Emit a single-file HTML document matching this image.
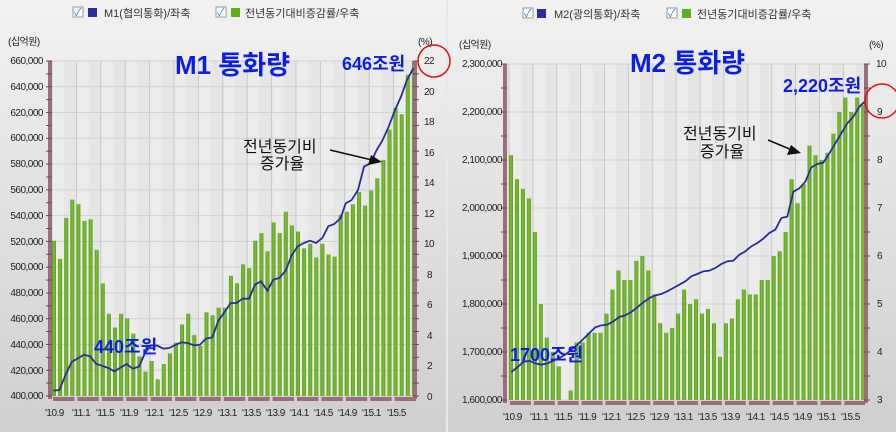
<!DOCTYPE html>
<html><head><meta charset="utf-8"><style>
html,body{margin:0;padding:0;background:#eee;}
body{width:896px;height:436px;overflow:hidden;position:relative;font-family:"Liberation Sans","Noto Sans CJK KR",sans-serif;}
svg{position:absolute;left:0;top:0;}
.t{font-size:10px;fill:#222;letter-spacing:-0.5px}
.lg{font-size:11px;fill:#333}
.ttl{font-size:26px;font-weight:bold;fill:#0a1ee6}
.amt{font-size:18px;font-weight:bold;fill:#0a1ee6}
.ann{font-size:16px;fill:#111}
</style></head><body>
<svg id="s" width="896" height="436" viewBox="0 0 896 436">
<defs>
<linearGradient id="bg" x1="0" y1="0" x2="0" y2="1"><stop offset="0" stop-color="#f2f2f2"/><stop offset="1" stop-color="#cfcfcf"/></linearGradient>
<linearGradient id="bar" x1="0" y1="0" x2="1" y2="0"><stop offset="0" stop-color="#5a9a1e"/><stop offset="0.5" stop-color="#7dc236"/><stop offset="1" stop-color="#5a9a1e"/></linearGradient>
</defs>
<rect x="0" y="0" width="896" height="432" fill="url(#bg)"/>
<rect x="0" y="432" width="896" height="4" fill="#fff"/>
<rect x="446" y="0" width="2" height="432" fill="#e8e8e8"/>
<g id="g"></g>
<rect x="73" y="7" width="10" height="10" fill="#fff" stroke="#999"/><text x="74" y="16" font-size="11" fill="#2a8ad8">✓</text>
<rect x="88" y="8" width="9" height="9" fill="#2b2c9c"/>
<text x="104" y="17" class="lg">M1(협의통화)/좌축</text>
<rect x="216" y="7" width="10" height="10" fill="#fff" stroke="#999"/><text x="217" y="16" font-size="11" fill="#2a8ad8">✓</text>
<rect x="231" y="8" width="9" height="9" fill="#5fae1e"/>
<text x="245" y="17" class="lg">전년동기대비증감률/우축</text>
<rect x="523" y="8" width="10" height="10" fill="#fff" stroke="#999"/><text x="524" y="17" font-size="11" fill="#2a8ad8">✓</text>
<rect x="537" y="9" width="9" height="9" fill="#2b2c9c"/>
<text x="554" y="18" class="lg">M2(광의통화)/좌축</text>
<rect x="667" y="8" width="10" height="10" fill="#fff" stroke="#999"/><text x="668" y="17" font-size="11" fill="#2a8ad8">✓</text>
<rect x="682" y="9" width="9" height="9" fill="#5fae1e"/>
<text x="697" y="18" class="lg">전년동기대비증감률/우축</text>
<text x="8" y="45" class="t" fill="#555">(십억원)</text>
<text x="418" y="45" class="t">(%)</text>
<text x="459" y="48" class="t">(십억원)</text>
<text x="869" y="48" class="t">(%)</text>
<g class="t" text-anchor="end">
<text x="43" y="64">660,000</text><text x="43" y="90">640,000</text><text x="43" y="116">620,000</text><text x="43" y="141">600,000</text><text x="43" y="167">580,000</text><text x="43" y="193">560,000</text><text x="43" y="219">540,000</text><text x="43" y="245">520,000</text><text x="43" y="270">500,000</text><text x="43" y="296">480,000</text><text x="43" y="322">460,000</text><text x="43" y="348">440,000</text><text x="43" y="374">420,000</text><text x="43" y="399">400,000</text>
</g>
<g class="t">
<text x="424" y="64">22</text><text x="424" y="95">20</text><text x="424" y="125">18</text><text x="424" y="156">16</text><text x="424" y="186">14</text><text x="424" y="217">12</text><text x="424" y="247">10</text><text x="427" y="278">8</text><text x="427" y="308">6</text><text x="427" y="339">4</text><text x="427" y="369">2</text><text x="427" y="400">0</text>
</g>
<g class="t" text-anchor="end">
<text x="502" y="67">2,300,000</text><text x="502" y="115">2,200,000</text><text x="502" y="163">2,100,000</text><text x="502" y="211">2,000,000</text><text x="502" y="259">1,900,000</text><text x="502" y="307">1,800,000</text><text x="502" y="355">1,700,000</text><text x="502" y="403">1,600,000</text>
</g>
<g class="t">
<text x="876" y="67">10</text><text x="877" y="115">9</text><text x="877" y="163">8</text><text x="877" y="211">7</text><text x="877" y="259">6</text><text x="877" y="307">5</text><text x="877" y="355">4</text><text x="877" y="403">3</text>
</g>
<g class="t">
<text x="45" y="416">'10.9</text><text x="72" y="416">'11.1</text><text x="96" y="416">'11.5</text><text x="120" y="416">'11.9</text><text x="145" y="416">'12.1</text><text x="169" y="416">'12.5</text><text x="193" y="416">'12.9</text><text x="218" y="416">'13.1</text><text x="242" y="416">'13.5</text><text x="266" y="416">'13.9</text><text x="290" y="416">'14.1</text><text x="314" y="416">'14.5</text><text x="338" y="416">'14.9</text><text x="362" y="416">'15.1</text><text x="387" y="416">'15.5</text>
<text x="503" y="420">'10.9</text><text x="530" y="420">'11.1</text><text x="554" y="420">'11.5</text><text x="578" y="420">'11.9</text><text x="602" y="420">'12.1</text><text x="626" y="420">'12.5</text><text x="650" y="420">'12.9</text><text x="674" y="420">'13.1</text><text x="698" y="420">'13.5</text><text x="721" y="420">'13.9</text><text x="746" y="420">'14.1</text><text x="770" y="420">'14.5</text><text x="793" y="420">'14.9</text><text x="817" y="420">'15.1</text><text x="841" y="420">'15.5</text>
</g>
<text x="175" y="74" class="ttl">M1 통화량</text>
<text x="342" y="70" class="amt">646조원</text>
<text x="630" y="72" class="ttl">M2 통화량</text>
<text x="783" y="92" class="amt">2,220조원</text>
<text x="94" y="353" class="amt">440조원</text>
<text x="510" y="361" class="amt">1700조원</text>
<text x="243" y="152" class="ann">전년동기비</text>
<text x="260" y="169" class="ann">증가율</text>
<text x="683" y="139" class="ann">전년동기비</text>
<text x="700" y="157" class="ann">증가율</text>
<line x1="330" y1="150" x2="372" y2="160" stroke="#111" stroke-width="1.5"/><polygon points="382,162 368,165 371,155" fill="#111"/>
<line x1="768" y1="140" x2="792" y2="150" stroke="#111" stroke-width="1.5"/><polygon points="801,153 787,155 791,145" fill="#111"/>
<circle cx="434" cy="61" r="16" fill="none" stroke="#e01010" stroke-width="1.5"/>
<circle cx="882" cy="101" r="17" fill="none" stroke="#e01010" stroke-width="1.5"/>
</svg>
<script>
var NS="http://www.w3.org/2000/svg",g=document.getElementById('g');
function el(n,a,p){var e=document.createElementNS(NS,n);for(var k in a)e.setAttribute(k,a[k]);(p||g).appendChild(e);return e;}
function panel(L,R,T,B,nh,x0,dx,bars,vmin,vmax,line){
  el('rect',{x:L,y:T,width:R-L,height:B-T,fill:'#e6e6e6'});
  for(var i=0;i<15;i++){var x=x0-2+i*4*dx;el('rect',{x:x,y:T,width:2*dx,height:B-T,fill:'#ececec'});el('line',{x1:x,y1:T,x2:x,y2:B,stroke:'#c8c8c8','stroke-width':1});}
  for(var j=0;j<=nh;j++){var y=T+(B-T)*j/nh;el('line',{x1:L,y1:y,x2:R,y2:y,stroke:'#d2d2d2','stroke-width':1});}
  for(var i=0;i<bars.length;i++){var v=Math.max(bars[i],vmin);var y=B-(v-vmin)/(vmax-vmin)*(B-T);el('rect',{x:x0+i*dx-2,y:y,width:4,height:B-y,fill:'url(#bar)'});}
  el('rect',{x:L-4,y:T,width:4,height:B-T+3,fill:'#9b6e7b'});
  el('rect',{x:R,y:T,width:4,height:B-T+3,fill:'#9b6e7b'});
  for(var j=0;j<=nh*2;j++){var y=T+(B-T)*j/(nh*2);el('line',{x1:L-6,y1:y,x2:L,y2:y,stroke:'#6a4a55'});el('line',{x1:R,y1:y,x2:R+6,y2:y,stroke:'#6a4a55'});}
  for(var i=0;i<15;i++){var x=x0-2+i*4*dx;el('rect',{x:x+1,y:B+1,width:4*dx-3,height:4,fill:'#9b6e7b'});}
  el('polyline',{points:line.map(function(p){return p.join(',')}).join(' '),fill:'none',stroke:'#2b2c9c','stroke-width':1.8});
}
var b1=[10.2,9.0,11.7,12.9,12.6,11.5,11.6,9.6,7.4,5.4,4.5,5.4,5.1,4.1,2.6,1.6,2.3,1.1,2.1,2.8,3.5,4.7,5.4,4.0,3.3,5.5,5.3,5.8,5.8,7.9,7.4,8.65,8.4,10.2,10.7,9.5,11.4,10.7,12.1,11.2,10.8,9.7,10.0,9.1,10.0,9.3,9.15,11.9,12.1,12.6,13.4,12.5,13.5,14.3,15.5,17.5,18.9,18.5,21.1,22];
var z2=[[160,518],[178,516],[197,470],[215,432],[252,410],[270,415],[288,437],[325,450],[343,460],[380,438],[398,452],[417,446],[435,405],[453,382],[472,383],[490,392],[508,390],[527,380],[545,373],[563,375],[582,382],[600,380],[618,362],[637,358],[655,308],[673,283],[692,255],[710,255],[728,242],[747,242],[765,200],[783,190],[802,218],[820,185],[838,180],[857,158],[875,112],[893,85],[912,75],[930,68],[948,75],[967,60],[985,25],[1003,18],[1022,0]];
var z1=[[1037,610],[1055,600],[1074,570],[1092,500],[1111,490],[1130,450],[1148,420],[1166,380],[1185,330],[1203,290],[1221,240],[1240,205]];
var l1=z2.map(function(p){return [p[0]/3,218+p[1]/3]}).concat(z1.map(function(p){return [p[0]/3,p[1]/3]}));
panel(52,413,61,396,13,54,6.1,b1,0,22,l1);
var b2=[8.1,7.6,7.4,7.2,6.5,5.0,4.3,4.0,3.7,3.0,3.2,4.2,4.2,4.4,4.4,4.4,4.8,5.3,5.7,5.5,5.5,5.9,6.0,5.7,5.2,4.6,4.4,4.5,4.8,5.3,5.0,5.1,4.8,4.9,4.6,3.9,4.6,4.7,5.1,5.3,5.2,5.2,5.5,5.5,6.0,6.1,6.5,7.6,7.1,7.5,8.3,8.1,8.0,8.15,8.55,9.0,9.3,9.0,9.3,9.15];
var z3=[[190,462],[208,448],[226,432],[244,428],[262,436],[280,440],[298,436],[316,428],[334,420],[352,410],[370,395],[388,380],[406,363],[424,345],[442,328],[460,322],[478,320],[496,310],[514,297],[532,292],[550,282],[568,268],[586,253],[604,240],[622,232],[640,228],[658,220],[676,210],[694,200],[712,190],[730,175],[748,168],[766,160],[784,158],[802,150],[820,138],[838,130],[856,128],[874,110],[892,100],[910,85],[928,75],[946,62],[964,45],[982,35],[1000,0]];
var z4=[[1018,650],[1036,575],[1054,565],[1072,545],[1090,502],[1108,492],[1126,488],[1144,460],[1162,430],[1180,400],[1198,370],[1216,350],[1234,320],[1250,305]];
var l2=z3.map(function(p){return [448+p[0]/3,218+p[1]/3]}).concat(z4.map(function(p){return [448+p[0]/3,p[1]/3]}));
panel(507,864,64,400,7,511,5.97,b2,3,10,l2);
</script>
</body></html>
